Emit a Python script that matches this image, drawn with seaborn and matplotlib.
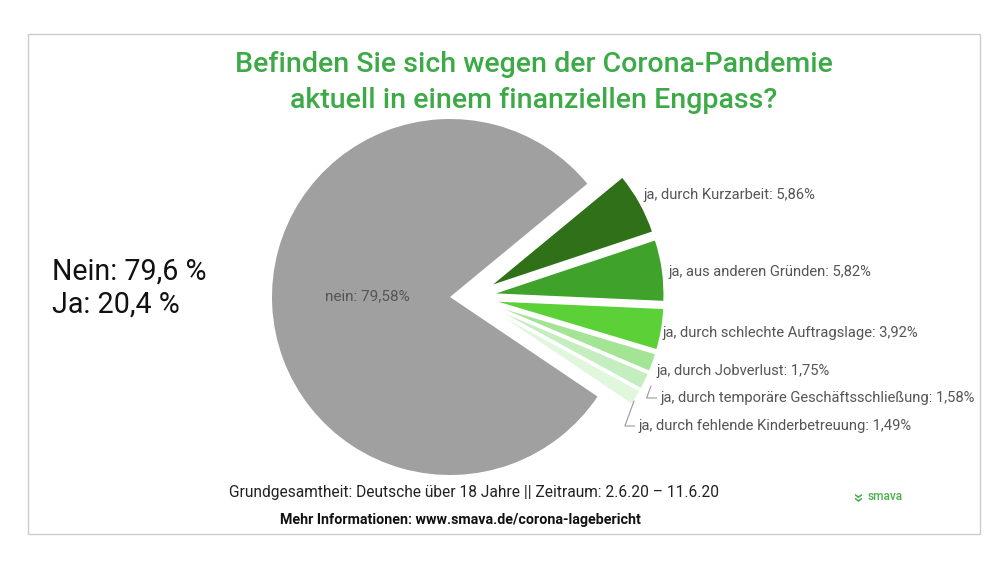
import matplotlib
matplotlib.use("Agg")
import matplotlib.pyplot as plt
import seaborn as sns
from matplotlib.patches import Rectangle

categories = ["nein", "ja, durch Kurzarbeit", "ja, aus anderen Gründen",
              "ja, durch schlechte Auftragslage", "ja, durch Jobverlust",
              "ja, durch temporäre Geschäftsschließung",
              "ja, durch fehlende Kinderbetreuung"]
values = [79.58, 5.86, 5.82, 3.92, 1.75, 1.58, 1.49]
value_labels = ["79,58%", "5,86%", "5,82%", "3,92%", "1,75%", "1,58%", "1,49%"]
summary_labels = ["Nein: 79,6 %", "Ja: 20,4 %"]
colors = ["#a0a0a0", "#2f7019", "#3fa22a", "#5cd137", "#a3e595", "#c5eec0", "#e0f7dc"]
title_lines = ["Befinden Sie sich wegen der Corona-Pandemie",
               "aktuell in einem finanziellen Engpass?"]
footer1 = "Grundgesamtheit: Deutsche über 18 Jahre || Zeitraum: 2.6.20 – 11.6.20"
footer2 = "Mehr Informationen: www.smava.de/corona-lagebericht"

sns.set_theme(style="white")
plt.rcParams['font.family'] = ['Roboto', 'DejaVu Sans']

W, H = 1008, 567
fig = plt.figure(figsize=(W / 100, H / 100), dpi=100)
fig.patch.set_facecolor("white")
ax = fig.add_axes([0, 0, 1, 1])
S = 178.0
cx, cy = 450.0, 297.0


def px(x, y):
    return ((x - cx) / S, (cy - y) / S)


# base pie (gray "nein" wedge)
w1, _ = ax.pie(values, colors=colors, startangle=-34, counterclock=False,
               radius=1.0, wedgeprops=dict(linewidth=0))
for w in w1[1:]:
    w.set_visible(False)

# exploded "ja" wedges
explode = [0] + [0.12] * (len(values) - 1)
w2, _ = ax.pie(values, colors=colors, startangle=-34, counterclock=False,
               radius=0.97, center=(0.115, 0), explode=explode,
               wedgeprops=dict(edgecolor="white", linewidth=1.2))
w2[0].set_visible(False)

ax.set_aspect("auto")
ax.set_xlim(-cx / S, (W - cx) / S)
ax.set_ylim(-(H - cy) / S, cy / S)
ax.axis("off")

lab_color = "#555555"
lab_size = 10.6
# nein label inside
ax.text(*px(367, 296), f"{categories[0]}: {value_labels[0]}", ha="center", va="center",
        fontsize=11, color=lab_color)

label_pos = [None, (643, 195), (669, 272), (663, 333), (656, 371), (660, 398), (638, 426)]
leader_from = {5: (651, 386), 6: (634, 401)}
for i in range(1, len(values)):
    txt = f"{categories[i]}: {value_labels[i]}"
    if i in leader_from:
        ax.annotate(txt, xy=px(*leader_from[i]), xytext=px(*label_pos[i]),
                    ha="left", va="center", fontsize=lab_size, color=lab_color,
                    arrowprops=dict(arrowstyle="-", color="#999999", lw=0.8,
                                    shrinkA=0, shrinkB=0,
                                    connectionstyle="angle,angleA=0,angleB=70,rad=0"))
    else:
        ax.text(*px(*label_pos[i]), txt, ha="left", va="center", fontsize=lab_size,
                color=lab_color)

# border
fig.add_artist(Rectangle((28 / W, 1 - 534 / H), (980 - 28) / W, (534 - 34) / H,
                         transform=fig.transFigure, fill=False,
                         edgecolor="#cccccc", lw=1))

green = "#3caa46"
fig.text(534 / W, 1 - 65 / H, title_lines[0], ha="center", va="center",
         fontsize=20.5, color=green, fontweight="medium")
fig.text(534 / W, 1 - 100 / H, title_lines[1], ha="center", va="center",
         fontsize=20.5, color=green, fontweight="medium")

fig.text(52 / W, 1 - 272 / H, summary_labels[0], ha="left", va="center",
         fontsize=20.6, color="#111111")
fig.text(52 / W, 1 - 305 / H, summary_labels[1], ha="left", va="center",
         fontsize=20.6, color="#111111")

fig.text(474 / W, 1 - 493 / H, footer1, ha="center", va="center",
         fontsize=11.2, color="#222222")
fig.text(460 / W, 1 - 520 / H, footer2, ha="center", va="center",
         fontsize=10.3, color="#111111", fontweight="bold")

fig.text(857 / W, 1 - 497 / H, "»", ha="center", va="center", rotation=-90,
         fontsize=14, color="#4caf50", fontweight="bold")
fig.text(868 / W, 1 - 497 / H, "smava", ha="left", va="center",
         fontsize=8.6, color="#4caf50", fontweight="medium")

fig.savefig("out.png", dpi=100, facecolor="white")
